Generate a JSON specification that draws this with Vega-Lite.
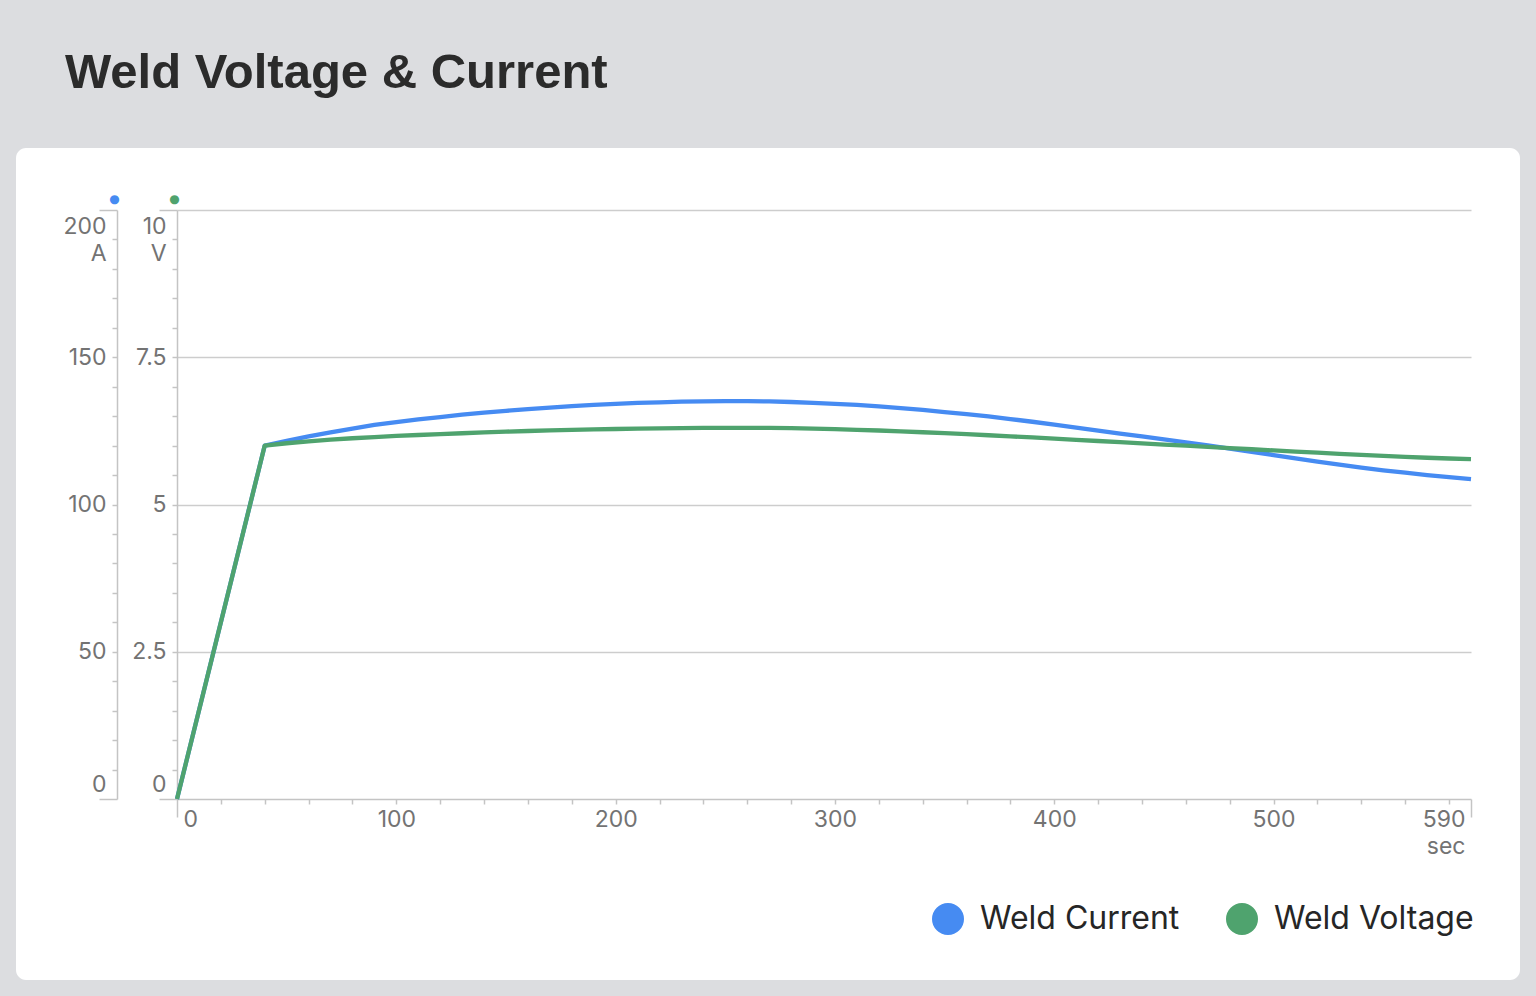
{
  "$schema": "https://vega.github.io/schema/vega-lite/v6.json",
  "width": 1504,
  "height": 832,
  "autosize": "none",
  "padding": {"left": 16, "top": 148, "right": 16, "bottom": 16},
  "background": "#dcdde0",
  "config": {
    "view": {"fill": "#ffffff", "stroke": null, "cornerRadius": 10},
    "axis": {
      "labelFont": "Inter",
      "labelFontSize": 23,
      "labelColor": "#737373",
      "labelLineHeight": 27,
      "domainColor": "#c4c4c4",
      "domainWidth": 1.5,
      "tickColor": "#c4c4c4",
      "tickWidth": 1.5,
      "gridColor": "#cdcdcd",
      "gridWidth": 1.5,
      "labelOverlap": false,
      "labelBound": false
    }
  },
  "title": {
    "text": "Weld Voltage & Current",
    "anchor": "start",
    "font": "Liberation Sans",
    "fontSize": 49,
    "fontWeight": "bold",
    "color": "#2b2b2b",
    "baseline": "alphabetic",
    "dx": 49,
    "offset": 11
  },
  "data": {
    "values": [
      {"t": 0, "current": 0, "voltage": 0},
      {"t": 40, "current": 120.0, "voltage": 6.00},
      {"t": 50, "current": 121.6, "voltage": 6.04},
      {"t": 60, "current": 123.1, "voltage": 6.07},
      {"t": 70, "current": 124.5, "voltage": 6.10},
      {"t": 80, "current": 125.8, "voltage": 6.125},
      {"t": 90, "current": 127.0, "voltage": 6.145},
      {"t": 100, "current": 128.0, "voltage": 6.165},
      {"t": 110, "current": 128.9, "voltage": 6.18},
      {"t": 120, "current": 129.7, "voltage": 6.195},
      {"t": 130, "current": 130.5, "voltage": 6.21},
      {"t": 140, "current": 131.2, "voltage": 6.225},
      {"t": 150, "current": 131.8, "voltage": 6.237},
      {"t": 160, "current": 132.4, "voltage": 6.248},
      {"t": 170, "current": 132.9, "voltage": 6.258},
      {"t": 180, "current": 133.4, "voltage": 6.267},
      {"t": 190, "current": 133.8, "voltage": 6.275},
      {"t": 200, "current": 134.2, "voltage": 6.282},
      {"t": 210, "current": 134.5, "voltage": 6.288},
      {"t": 220, "current": 134.7, "voltage": 6.293},
      {"t": 230, "current": 134.9, "voltage": 6.297},
      {"t": 240, "current": 135.0, "voltage": 6.30},
      {"t": 250, "current": 135.1, "voltage": 6.301},
      {"t": 260, "current": 135.1, "voltage": 6.301},
      {"t": 270, "current": 135.0, "voltage": 6.30},
      {"t": 280, "current": 134.8, "voltage": 6.295},
      {"t": 290, "current": 134.5, "voltage": 6.288},
      {"t": 300, "current": 134.2, "voltage": 6.279},
      {"t": 310, "current": 133.8, "voltage": 6.268},
      {"t": 320, "current": 133.3, "voltage": 6.256},
      {"t": 330, "current": 132.7, "voltage": 6.242},
      {"t": 340, "current": 132.1, "voltage": 6.227},
      {"t": 350, "current": 131.4, "voltage": 6.211},
      {"t": 360, "current": 130.7, "voltage": 6.194},
      {"t": 370, "current": 129.9, "voltage": 6.176},
      {"t": 380, "current": 129.0, "voltage": 6.157},
      {"t": 390, "current": 128.1, "voltage": 6.138},
      {"t": 400, "current": 127.1, "voltage": 6.118},
      {"t": 410, "current": 126.1, "voltage": 6.098},
      {"t": 420, "current": 125.1, "voltage": 6.078},
      {"t": 430, "current": 124.1, "voltage": 6.058},
      {"t": 440, "current": 123.1, "voltage": 6.038},
      {"t": 450, "current": 122.1, "voltage": 6.018},
      {"t": 460, "current": 121.1, "voltage": 5.998},
      {"t": 470, "current": 120.1, "voltage": 5.978},
      {"t": 480, "current": 119.0, "voltage": 5.958},
      {"t": 490, "current": 117.9, "voltage": 5.938},
      {"t": 500, "current": 116.8, "voltage": 5.918},
      {"t": 510, "current": 115.7, "voltage": 5.898},
      {"t": 520, "current": 114.6, "voltage": 5.879},
      {"t": 530, "current": 113.5, "voltage": 5.860},
      {"t": 540, "current": 112.5, "voltage": 5.842},
      {"t": 550, "current": 111.6, "voltage": 5.825},
      {"t": 560, "current": 110.8, "voltage": 5.809},
      {"t": 570, "current": 110.0, "voltage": 5.794},
      {"t": 580, "current": 109.3, "voltage": 5.781},
      {"t": 590, "current": 108.6, "voltage": 5.770}
    ]
  },
  "encoding": {
    "x": {
      "field": "t",
      "type": "quantitative",
      "scale": {"domain": [0, 590], "range": [161, 1455], "nice": false, "zero": false},
      "axis": {
        "orient": "bottom",
        "offset": -181,
        "title": null,
        "grid": false,
        "format": "d",
        "values": [0, 20, 40, 60, 80, 100, 120, 140, 160, 180, 200, 220, 240, 260, 280, 300, 320, 340, 360, 380, 400, 420, 440, 460, 480, 500, 520, 540, 560, 580, 590],
        "labelExpr": "datum.value == 590 ? ['590', 'sec'] : (datum.value % 100 == 0 ? datum.label : '')",
        "labelBaseline": "top",
        "labelFlush": true,
        "labelFlushOffset": -6,
        "tickSize": {"condition": {"test": "datum.value == 0 || datum.value == 590", "value": 18}, "value": 5},
        "labelPadding": {"condition": {"test": "datum.value == 0 || datum.value == 590", "value": -9}, "value": 4}
      }
    }
  },
  "layer": [
    {
      "mark": {"type": "line", "strokeWidth": 4.3, "strokeJoin": "round"},
      "encoding": {
        "y": {
          "field": "current",
          "type": "quantitative",
          "scale": {"domain": [0, 200], "range": [651, 62], "nice": false, "zero": false},
          "axis": {
            "orient": "left",
            "offset": -101,
            "format": "d",
            "values": [0, 10, 20, 30, 40, 50, 60, 70, 80, 90, 100, 110, 120, 130, 140, 150, 160, 170, 180, 190, 200],
            "labelExpr": "datum.value == 200 ? ['200', 'A'] : (datum.value % 50 == 0 ? datum.label : '')",
            "labelBaseline": {"condition": [{"test": "datum.value == 200", "value": "top"}, {"test": "datum.value == 0", "value": "bottom"}], "value": "middle"},
            "labelOffset": {"condition": [{"test": "datum.value == 200", "value": 5}, {"test": "datum.value == 0", "value": -3}], "value": 0},
            "tickSize": {"condition": {"test": "datum.value == 0 || datum.value == 200", "value": 18}, "value": 5},
            "labelPadding": {"condition": {"test": "datum.value == 0 || datum.value == 200", "value": -7}, "value": 6},
            "grid": true,
            "gridOpacity": {"condition": {"test": "datum.value % 50 == 0 && datum.value > 0", "value": 1}, "value": 0},
            "title": "●",
            "titleColor": "#468bf2",
            "titleFont": "DejaVu Sans",
            "titleFontSize": 12,
            "titleFontWeight": "normal",
            "titleAngle": 0,
            "titleAlign": "center",
            "titleBaseline": "middle",
            "titleX": -3,
            "titleY": 50
          }
        },
        "color": {
          "datum": "Weld Current",
          "type": "nominal",
          "scale": {"domain": ["Weld Current", "Weld Voltage"], "range": ["#468bf2", "#4fa36e"]},
          "legend": {
            "orient": "none",
            "legendX": 916,
            "legendY": 755,
            "direction": "horizontal",
            "title": null,
            "padding": 0,
            "symbolType": "circle",
            "symbolSize": 256,
            "symbolStrokeWidth": 16,
            "symbolOpacity": 1,
            "labelFont": "Inter",
            "labelFontSize": 32,
            "labelLimit": 500,
            "labelColor": "#262626",
            "labelOffset": 16,
            "columnPadding": 22
          }
        }
      }
    },
    {
      "mark": {"type": "line", "strokeWidth": 4.3, "strokeJoin": "round"},
      "encoding": {
        "y": {
          "field": "voltage",
          "type": "quantitative",
          "scale": {"domain": [0, 10], "range": [651, 62], "nice": false, "zero": false},
          "axis": {
            "orient": "left",
            "offset": -161,
            "format": "~g",
            "values": [0, 0.5, 1, 1.5, 2, 2.5, 3, 3.5, 4, 4.5, 5, 5.5, 6, 6.5, 7, 7.5, 8, 8.5, 9, 9.5, 10],
            "labelExpr": "datum.value == 10 ? ['10', 'V'] : (datum.value % 2.5 == 0 ? datum.label : '')",
            "labelBaseline": {"condition": [{"test": "datum.value == 10", "value": "top"}, {"test": "datum.value == 0", "value": "bottom"}], "value": "middle"},
            "labelOffset": {"condition": [{"test": "datum.value == 10", "value": 5}, {"test": "datum.value == 0", "value": -3}], "value": 0},
            "tickSize": {"condition": {"test": "datum.value == 0 || datum.value == 10", "value": 18}, "value": 5},
            "labelPadding": {"condition": {"test": "datum.value == 0 || datum.value == 10", "value": -7}, "value": 6},
            "grid": false,
            "title": "●",
            "titleColor": "#4fa36e",
            "titleFont": "DejaVu Sans",
            "titleFontSize": 12,
            "titleFontWeight": "normal",
            "titleAngle": 0,
            "titleAlign": "center",
            "titleBaseline": "middle",
            "titleX": -3,
            "titleY": 50
          }
        },
        "color": {
          "datum": "Weld Voltage",
          "type": "nominal",
          "scale": {"domain": ["Weld Current", "Weld Voltage"], "range": ["#468bf2", "#4fa36e"]}
        }
      }
    }
  ],
  "resolve": {"scale": {"y": "independent"}, "axis": {"y": "independent"}}
}
